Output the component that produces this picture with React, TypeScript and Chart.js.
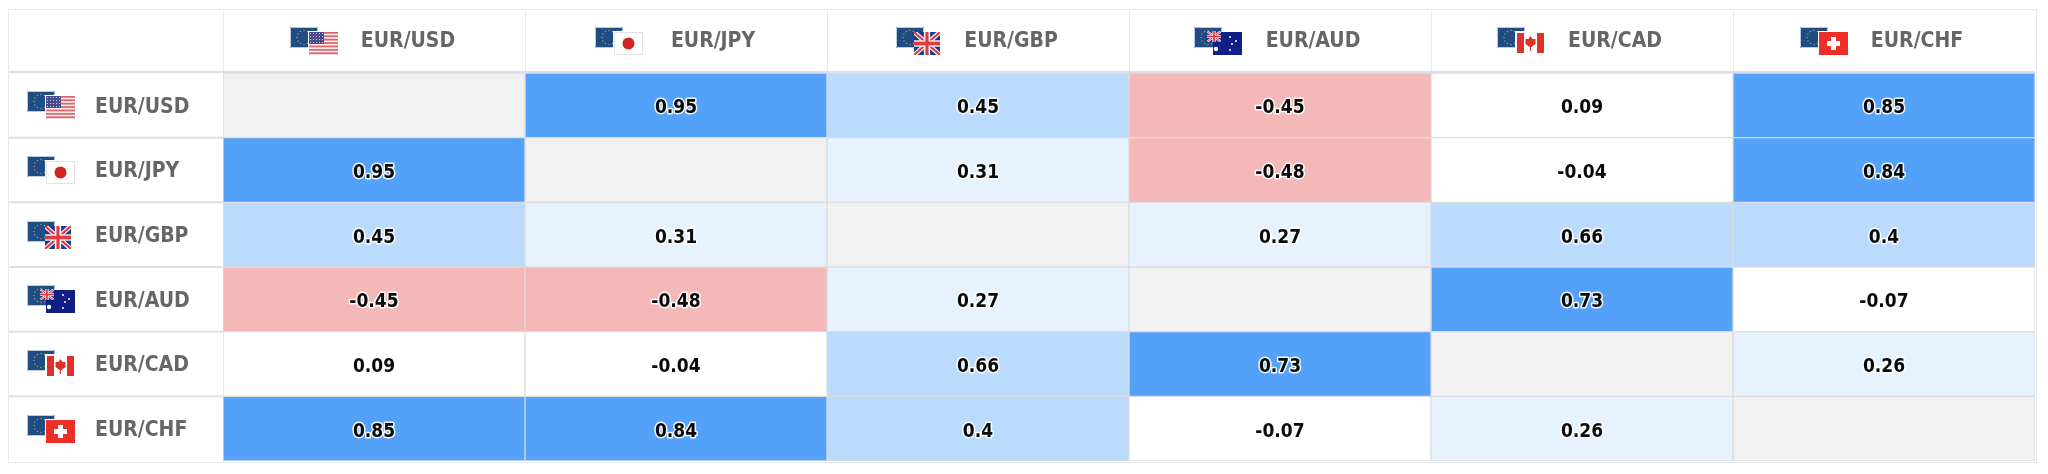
import React, { useEffect, useRef } from "react";
import { Chart, registerables } from "chart.js";

Chart.register(...registerables);

const pairs = ["EUR/USD", "EUR/JPY", "EUR/GBP", "EUR/AUD", "EUR/CAD", "EUR/CHF"];
const flags = ["usd", "jpy", "gbp", "aud", "cad", "chf"];
const rowUSD = [null, 0.95, 0.45, -0.45, 0.09, 0.85];
const rowJPY = [0.95, null, 0.31, -0.48, -0.04, 0.84];
const rowGBP = [0.45, 0.31, null, 0.27, 0.66, 0.4];
const rowAUD = [-0.45, -0.48, 0.27, null, 0.73, -0.07];
const rowCAD = [0.09, -0.04, 0.66, 0.73, null, 0.26];
const rowCHF = [0.85, 0.84, 0.4, -0.07, 0.26, null];
const rows = [rowUSD, rowJPY, rowGBP, rowAUD, rowCAD, rowCHF];
const headerLabelNudge = [0, 3, -1, -1, -1, -1];
const headerFlagOffset = [-84, -81, -82, -86, -85, -84];

const FONT = "'DejaVu Sans Condensed', 'DejaVu Sans', sans-serif";

function cellColor(v: number | null) {
  if (v === null) return "#f1f1f1";
  if (v >= 0.7) return "#53a1f8";
  if (v >= 0.4) return "#badbfd";
  if (v >= 0.2) return "#e6f2fd";
  if (v <= -0.4) return "#f5b8b8";
  return "#ffffff";
}

function star(c: CanvasRenderingContext2D, x: number, y: number, r: number, col: string) {
  c.fillStyle = col;
  c.beginPath();
  c.arc(x, y, r, 0, Math.PI * 2);
  c.fill();
}

function miniUnion(c: CanvasRenderingContext2D, x: number, y: number, w: number, h: number) {
  c.save();
  c.beginPath();
  c.rect(x, y, w, h);
  c.clip();
  c.fillStyle = "#1a3a8c";
  c.fillRect(x, y, w, h);
  c.strokeStyle = "#f4f4f8";
  c.lineWidth = h * 0.2;
  c.beginPath();
  c.moveTo(x, y);
  c.lineTo(x + w, y + h);
  c.moveTo(x + w, y);
  c.lineTo(x, y + h);
  c.stroke();
  c.strokeStyle = "#e03a3e";
  c.lineWidth = h * 0.09;
  c.stroke();
  c.fillStyle = "#f4f4f8";
  c.fillRect(x + w * 0.38, y, w * 0.24, h);
  c.fillRect(x, y + h * 0.36, w, h * 0.28);
  c.fillStyle = "#e03a3e";
  c.fillRect(x + w * 0.44, y, w * 0.12, h);
  c.fillRect(x, y + h * 0.42, w, h * 0.16);
  c.restore();
}

function drawFlag(c: CanvasRenderingContext2D, kind: string, x: number, y: number) {
  c.fillStyle = "#1f4c82";
  c.fillRect(x, y, 28, 21);
  c.strokeStyle = "#b9cbe0";
  c.lineWidth = 1;
  c.strokeRect(x + 0.5, y + 0.5, 27, 20);
  for (let i = 0; i < 12; i++) {
    const a = (i / 12) * Math.PI * 2;
    star(c, x + 14 + Math.cos(a) * 7, y + 10.5 + Math.sin(a) * 7, 0.7, "#a9a84e");
  }
  const ox = x + 19;
  const oy = y + 5;
  const w = 29;
  const h = 23;
  if (kind !== "gbp" && kind !== "aud") {
    c.fillStyle = "#ffffff";
    c.fillRect(ox - 1, oy - 1, w + 1, h + 1);
  }
  if (kind === "usd") {
    c.fillStyle = "#fbeaea";
    c.fillRect(ox, oy, w, h);
    c.fillStyle = "#d9646c";
    for (let i = 0; i < 7; i++) c.fillRect(ox, oy + i * 3.4, w, 1.7);
    c.fillStyle = "#4a4a8e";
    c.fillRect(ox, oy, 15, 12);
    c.fillStyle = "#c9c9e6";
    for (let i = 0; i < 5; i++) for (let j = 0; j < 4; j++) c.fillRect(ox + 1 + i * 3, oy + 1 + j * 3, 1, 1);
  } else if (kind === "jpy") {
    c.strokeStyle = "#e2e2e2";
    c.strokeRect(ox + 0.5, oy + 0.5, w - 1, h - 1);
    star(c, ox + w / 2, oy + h / 2, 6, "#d3231f");
  } else if (kind === "gbp") {
    miniUnion(c, ox - 1, oy, w - 3, h);
  } else if (kind === "aud") {
    c.fillStyle = "#0f1f86";
    c.fillRect(ox, oy, w, h);
    miniUnion(c, ox - 6, oy - 1, 14, 11);
    star(c, ox + 3, oy + 17, 2.2, "#ffffff");
    star(c, ox + 17, oy + 5, 1, "#ffffff");
    star(c, ox + 23, oy + 9, 1, "#ffffff");
    star(c, ox + 19, oy + 12, 1, "#ffffff");
    star(c, ox + 17, oy + 18, 1, "#ffffff");
  } else if (kind === "cad") {
    c.fillStyle = "#ffffff";
    c.fillRect(ox, oy, w, h);
    c.fillStyle = "#e0302a";
    c.fillRect(ox + 1, oy + 1, 7, h - 3);
    c.fillRect(ox + w - 8, oy + 1, 7, h - 3);
    const m = ox + w / 2;
    c.beginPath();
    c.moveTo(m, oy + 4);
    c.lineTo(m + 2, oy + 7);
    c.lineTo(m + 5, oy + 7);
    c.lineTo(m + 5, oy + 12);
    c.lineTo(m + 1, oy + 15);
    c.lineTo(m - 1, oy + 15);
    c.lineTo(m - 5, oy + 12);
    c.lineTo(m - 5, oy + 7);
    c.lineTo(m - 2, oy + 7);
    c.closePath();
    c.fill();
    c.fillRect(m - 0.5, oy + 14, 1, 5);
  } else {
    c.fillStyle = "#ee2f27";
    c.fillRect(ox, oy, w, h);
    c.fillStyle = "#ffffff";
    c.fillRect(ox + w / 2 - 2.5, oy + 5, 5, 13);
    c.fillRect(ox + w / 2 - 6.5, oy + 9, 13, 5);
  }
}

const tablePlugin = {
  id: "table",
  beforeDraw(chart: any) {
    const { ctx: c, chartArea: a, scales } = chart;
    const left = a.left - 215;
    const top = a.top - 64;
    c.save();
    c.fillStyle = "#ffffff";
    c.fillRect(left, top, a.right - left, a.bottom - top);
    c.strokeStyle = "#e2ebeb";
    c.lineWidth = 1;
    c.strokeRect(left + 0.5, top + 0.5, a.right - left + 1, a.bottom - top + 1);
    c.strokeStyle = "#e6eaea";
    for (let i = 0; i < pairs.length; i++) {
      const px = Math.round(scales.x.getPixelForValue(i)) + 0.5;
      c.beginPath();
      c.moveTo(px, top + 1);
      c.lineTo(px, a.top);
      c.stroke();
    }
    c.strokeStyle = "#e0e0e0";
    c.lineWidth = 2;
    for (let i = 1; i < pairs.length; i++) {
      const py = (scales.y.getPixelForValue(i - 1) + scales.y.getPixelForValue(i)) / 2;
      c.beginPath();
      c.moveTo(left + 1, py);
      c.lineTo(a.left, py);
      c.stroke();
    }
    c.strokeStyle = "#d9dfea";
    c.beginPath();
    c.moveTo(left + 1, a.top - 1);
    c.lineTo(a.right, a.top - 1);
    c.stroke();
    c.restore();
  },
  afterDatasetsDraw(chart: any) {
    const { ctx: c, chartArea: a, scales } = chart;
    c.save();
    c.font = `700 19px ${FONT}`;
    c.textAlign = "center";
    c.textBaseline = "middle";
    c.lineJoin = "round";
    chart.data.datasets.forEach((ds: any, j: number) => {
      const meta = chart.getDatasetMeta(j);
      meta.data.forEach((bar: any, i: number) => {
        const v = rows[i][j];
        if (v === null) return;
        const p = bar.getProps(["x", "y", "base"], true);
        const cx = (p.x + p.base) / 2;
        const cy = p.y + 3;
        c.strokeStyle = "rgba(255,255,255,0.9)";
        c.lineWidth = 3;
        c.strokeText(String(v), cx, cy);
        c.fillStyle = "#0a0a0a";
        c.fillText(String(v), cx, cy);
      });
    });
    flags.forEach((k, i) => {
      const cx = scales.x.getPixelForValue(i + 0.5);
      drawFlag(c, k, Math.round(cx + headerFlagOffset[i]), a.top - 46);
      const cy = scales.y.getPixelForValue(i);
      drawFlag(c, k, a.left - 196, Math.round(cy - 14));
    });
    c.restore();
  },
};

export default function App() {
  const ref = useRef<HTMLCanvasElement>(null);
  useEffect(() => {
    document.body.style.margin = "0";
    const chart = new Chart(ref.current!, {
      type: "bar",
      plugins: [tablePlugin],
      data: {
        labels: pairs,
        datasets: pairs.map((name, j) => ({
          label: name,
          data: rows.map(() => 1),
          backgroundColor: rows.map((r) => cellColor(r[j])),
          borderColor: "#dcdcdc",
          borderWidth: 1,
          borderSkipped: false,
          barPercentage: 1,
          categoryPercentage: 1,
        })),
      },
      options: {
        indexAxis: "y",
        animation: false,
        responsive: false,
        layout: { padding: { left: 95, top: 9, right: 13, bottom: 13 } },
        plugins: { legend: { display: false }, tooltip: { enabled: false } },
        scales: {
          x: {
            type: "linear",
            position: "top",
            stacked: true,
            min: 0,
            max: pairs.length,
            grid: { display: false, drawTicks: false },
            border: { display: false },
            afterFit: (s: any) => {
              s.height = 64;
            },
            afterBuildTicks: (s: any) => {
              s.ticks = pairs.map((_, i) => ({ value: i + 0.5 + headerLabelNudge[i] / 302 }));
            },
            ticks: {
              autoSkip: false,
              maxRotation: 0,
              padding: 19,
              color: "#666666",
              font: { family: FONT, size: 21, weight: "700" },
              labelOffset: 34,
              callback: (v: any) => pairs[Math.floor(Number(v))],
            },
          },
          y: {
            type: "category",
            stacked: true,
            grid: { display: false, drawTicks: false },
            border: { display: false },
            afterFit: (s: any) => {
              s.width = 128;
            },
            ticks: {
              crossAlign: "far",
              padding: 0,
              labelOffset: 2,
              color: "#666666",
              font: { family: FONT, size: 21, weight: "700", lineHeight: 1 },
            },
          },
        },
      } as any,
    });
    return () => chart.destroy();
  }, []);
  return <canvas ref={ref} width={2048} height={474} style={{ display: "block" }} />;
}
